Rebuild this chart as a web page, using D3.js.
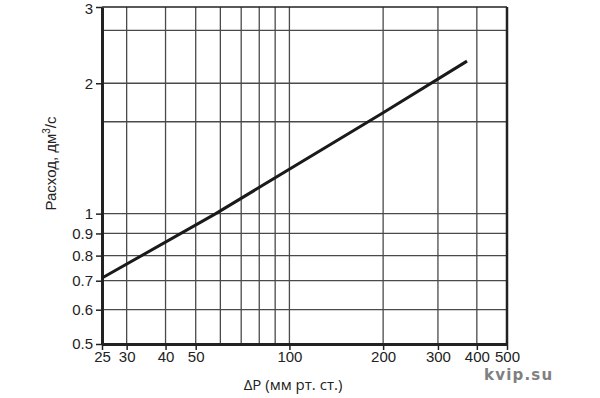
<!DOCTYPE html>
<html>
<head>
<meta charset="utf-8">
<script src="https://cdn.jsdelivr.net/npm/d3@7"></script>
<style>
  body { margin: 0; background: #fff; }
  text { font-family: "Liberation Sans", Arial, sans-serif; fill: #222; }
</style>
</head>
<body>
<div id="chart-area"></div>
<script>
// data
var flowX = [25, 58, 200, 372];
var flowY = [0.71, 1.0, 1.71, 2.25];

var xTicks = [25, 30, 40, 50, 100, 200, 300, 400, 500];
var yTicks = [0.5, 0.6, 0.7, 0.8, 0.9, 1, 2, 3];
var xGrid = [30, 40, 50, 60, 70, 80, 90, 100, 200, 300, 400];
var yGrid = [0.6, 0.7, 0.8, 0.9, 1, 1.63, 2, 2.65];

var margin = { left: 102, right: 93, top: 7, bottom: 54 };
var width = 600 - margin.left - margin.right;
var height = 398 - margin.top - margin.bottom;

var svg = d3.select("#chart-area").append("svg")
  .attr("width", 600)
  .attr("height", 398);

var g = svg.append("g")
  .attr("transform", "translate(" + margin.left + "," + margin.top + ")");

var x = d3.scaleLog().domain([25, 500]).range([0, width]);
var y = d3.scaleLog().domain([0.5, 3]).range([height, 0]);

// grid
g.selectAll(".vgrid")
  .data(xGrid)
  .enter()
  .append("line")
  .attr("x1", function(d) { return x(d); })
  .attr("x2", function(d) { return x(d); })
  .attr("y1", 0)
  .attr("y2", height)
  .attr("stroke", "#4a4a4a")
  .attr("stroke-width", 1.3);

g.selectAll(".hgrid")
  .data(yGrid)
  .enter()
  .append("line")
  .attr("x1", 0)
  .attr("x2", width)
  .attr("y1", function(d) { return y(d); })
  .attr("y2", function(d) { return y(d); })
  .attr("stroke", "#4a4a4a")
  .attr("stroke-width", 1.3);

// frame
g.append("line").attr("x1", 0).attr("x2", width).attr("y1", 0).attr("y2", 0)
  .attr("stroke", "#222").attr("stroke-width", 1.5);
g.append("line").attr("x1", width).attr("x2", width).attr("y1", 0).attr("y2", height)
  .attr("stroke", "#222").attr("stroke-width", 2.5);

// X Axis
var xAxisCall = d3.axisBottom(x)
  .tickValues(xTicks)
  .tickFormat(d3.format("d"))
  .tickSize(6)
  .tickSizeOuter(0);
var xAxis = g.append("g")
  .attr("transform", "translate(0," + height + ")")
  .call(xAxisCall);
xAxis.select(".domain").attr("stroke", "#222").attr("stroke-width", 3);
xAxis.selectAll(".tick line").attr("stroke", "#222").attr("stroke-width", 1.5);
xAxis.selectAll("text")
  .attr("font-size", "15px")
  .attr("fill", "#222")
  .attr("y", 7);

// Y Axis
var yAxisCall = d3.axisLeft(y)
  .tickValues(yTicks)
  .tickFormat(function(d) { return String(d); })
  .tickSize(6)
  .tickSizeOuter(0);
var yAxis = g.append("g").call(yAxisCall);
yAxis.select(".domain").attr("stroke", "#222").attr("stroke-width", 3);
yAxis.selectAll(".tick line").attr("stroke", "#222").attr("stroke-width", 1.5);
yAxis.selectAll("text")
  .attr("font-size", "15px")
  .attr("fill", "#222")
  .attr("x", -9)
  .attr("y", function(d) { return d === 3 ? 2 : 0; });

// flow line
var line = d3.line()
  .x(function(d) { return x(d[0]); })
  .y(function(d) { return y(d[1]); });

g.append("path")
  .datum(d3.zip(flowX, flowY))
  .attr("d", line)
  .attr("fill", "none")
  .attr("stroke", "#1a1a1a")
  .attr("stroke-width", 3);

// labels
g.append("text")
  .attr("x", 191)
  .attr("y", height + 46)
  .attr("font-size", "15px")
  .style("font-family", "'Open Sans', sans-serif")
  .attr("text-anchor", "middle")
  .text("ΔP (мм рт. ст.)");

var yl = g.append("text")
  .attr("transform", "translate(-46," + (height / 2 - 12) + ") rotate(-90)")
  .attr("font-size", "15px")
  .attr("text-anchor", "middle");
yl.append("tspan").text("Расход, дм");
yl.append("tspan").attr("font-size", "10px").attr("dy", -6).text("3");
yl.append("tspan").attr("dy", 6).text("/с");

svg.append("text")
  .attr("x", 484)
  .attr("y", 380)
  .attr("font-size", "15px")
  .attr("font-weight", "bold")
  .style("font-family", "'DejaVu Sans', Verdana, sans-serif")
  .style("letter-spacing", "1.2px")
  .style("fill", "#808080")
  .text("kvip.su");
</script>
</body>
</html>
